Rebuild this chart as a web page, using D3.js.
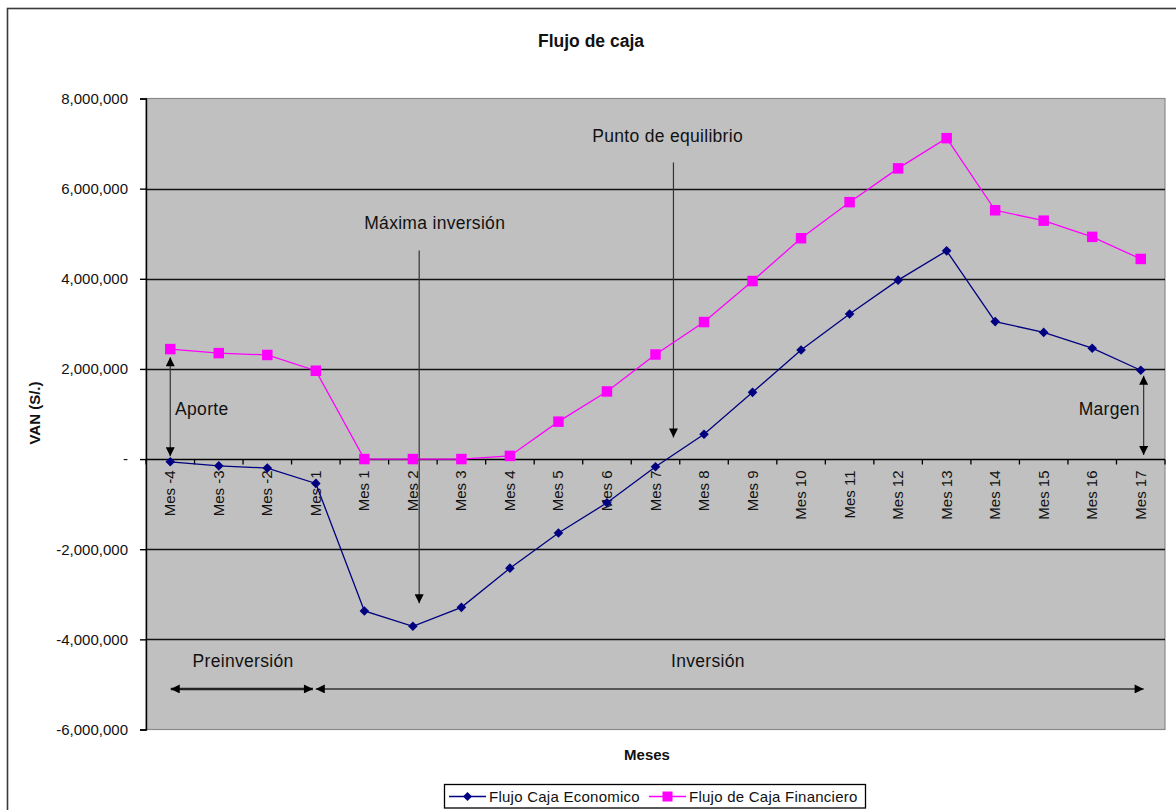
<!DOCTYPE html>
<html>
<head>
<meta charset="utf-8">
<script src="https://cdn.jsdelivr.net/npm/d3@7"></script>
<style>
  body { margin: 0; background: #fff; }
  svg { display: block; font-family: "Liberation Sans", Arial, sans-serif; }
</style>
</head>
<body>
<svg id="chart" width="1176" height="810"></svg>
<script>
// Monthly periods: four pre-investment months, then seventeen investment months
const categories = ["Mes -4", "Mes -3", "Mes -2", "Mes -1",
  "Mes 1", "Mes 2", "Mes 3", "Mes 4", "Mes 5", "Mes 6", "Mes 7", "Mes 8", "Mes 9",
  "Mes 10", "Mes 11", "Mes 12", "Mes 13", "Mes 14", "Mes 15", "Mes 16", "Mes 17"];

// Economic cash flow (VAN, S/.)
const flujoEconomico = [-60000, -150000, -200000, -540000,
  -3370000, -3710000, -3290000, -2420000, -1640000, -970000, -170000, 550000, 1480000,
  2420000, 3220000, 3970000, 4620000, 3050000, 2810000, 2460000, 1970000];

// Financial cash flow (VAN, S/.)
const flujoFinanciero = [2440000, 2350000, 2310000, 1960000,
  0, 0, 0, 70000, 830000, 1500000, 2320000, 3040000, 3950000,
  4900000, 5700000, 6450000, 7120000, 5520000, 5290000, 4930000, 4440000];

const yTicks = [8000000, 6000000, 4000000, 2000000, 0, -2000000, -4000000, -6000000];

const seriesNames = ["Flujo Caja Economico", "Flujo de Caja Financiero"];

const svg = d3.select("#chart");
const W = 1176, H = 810;
const plot = { left: 146, right: 1165, top: 98.5, bottom: 729.5 };
const textColor = "#111";

// outer chart frame
svg.append("rect")
  .attr("x", 7.5).attr("y", 8.5)
  .attr("width", W + 10).attr("height", H + 10)
  .attr("fill", "#fff").attr("stroke", "#3a3a3a").attr("stroke-width", 1.6);

const x = d3.scalePoint().domain(categories).range([plot.left, plot.right]).padding(0.5);
const y = d3.scaleLinear().domain([-6000000, 8000000]).range([plot.bottom, plot.top]);
// fractional category position, used for annotation placement
const xAt = t => x(categories[0]) + t * x.step();

// plot area
svg.append("rect")
  .attr("x", plot.left).attr("y", plot.top)
  .attr("width", plot.right - plot.left).attr("height", plot.bottom - plot.top)
  .attr("fill", "#c0c0c0").attr("stroke", "#8a8a8a").attr("stroke-width", 1.2);

// horizontal gridlines
svg.append("g").selectAll("line")
  .data(yTicks.filter(v => v !== 0 && v !== 8000000 && v !== -6000000))
  .join("line")
  .attr("x1", plot.left).attr("x2", plot.right)
  .attr("y1", d => Math.round(y(d)) + 0.5).attr("y2", d => Math.round(y(d)) + 0.5)
  .attr("stroke", "#111").attr("stroke-width", 1.3);

// value axis
const fmt = v => v === 0 ? "-" : d3.format(",")(v).replace("\u2212", "-");
const yAxis = svg.append("g")
  .attr("transform", `translate(${plot.left},0)`)
  .call(d3.axisLeft(y).tickValues(yTicks).tickFormat(fmt).tickSize(6).tickPadding(12));
yAxis.select(".domain").attr("stroke", "#000").attr("stroke-width", 1.4);
yAxis.selectAll(".tick line").attr("stroke", "#000").attr("stroke-width", 1.4);
yAxis.selectAll(".tick text")
  .attr("fill", textColor).attr("font-size", 15)
  .attr("font-family", "'Liberation Sans', Arial, sans-serif");

// category axis along zero
const zeroY = Math.round(y(0)) + 0.5;
const xAxisG = svg.append("g").attr("transform", `translate(0,${zeroY})`);
xAxisG.append("line")
  .attr("x1", plot.left).attr("x2", plot.right)
  .attr("stroke", "#000").attr("stroke-width", 1.4);
xAxisG.selectAll("line.tk")
  .data(d3.range(categories.length + 1))
  .join("line").attr("class", "tk")
  .attr("x1", i => xAt(i - 0.5)).attr("x2", i => xAt(i - 0.5))
  .attr("y1", 0).attr("y2", 5)
  .attr("stroke", "#000").attr("stroke-width", 1.3);
xAxisG.selectAll("text")
  .data(categories)
  .join("text")
  .attr("transform", d => `translate(${x(d) + 5},11) rotate(-90)`)
  .attr("text-anchor", "end")
  .attr("font-size", 15)
  .attr("fill", textColor)
  .text(d => d);

// annotation arrows
const defs = svg.append("defs");
function marker(id, orient) {
  defs.append("marker")
    .attr("id", id)
    .attr("viewBox", "0 0 10 10")
    .attr("refX", 10).attr("refY", 5)
    .attr("markerWidth", 10).attr("markerHeight", 9)
    .attr("markerUnits", "userSpaceOnUse")
    .attr("orient", orient)
    .append("path").attr("d", "M0,0 L10,5 L0,10 Z").attr("fill", "#000");
}
marker("arrEnd", "auto");
marker("arrStart", "auto-start-reverse");

const annotArrows = [
  // Aporte: from financial to economic value at the first month
  { x1: 0, x2: 0, y1: flujoFinanciero[0] - 180000, y2: flujoEconomico[0] + 120000, both: true, w: 1.2 },
  // Margen: last economic value down to zero
  { x1: 20.06, x2: 20.06, y1: flujoEconomico[20] - 120000, y2: 90000, both: true, w: 1.2 },
  // Máxima inversión
  { x1: 5.13, x2: 5.13, y1: 4630000, y2: -3200000, both: false, w: 1.2 },
  // Punto de equilibrio
  { x1: 10.37, x2: 10.37, y1: 6580000, y2: 480000, both: false, w: 1.2 },
  // Preinversión span
  { x1: 0.01, x2: 2.94, y1: -5100000, y2: -5100000, both: true, w: 2.4 },
  // Inversión span
  { x1: 3.0, x2: 20.06, y1: -5100000, y2: -5100000, both: true, w: 1.4 }
];
svg.append("g").selectAll("line")
  .data(annotArrows)
  .join("line")
  .attr("x1", d => xAt(d.x1)).attr("x2", d => xAt(d.x2))
  .attr("y1", d => y(d.y1)).attr("y2", d => y(d.y2))
  .attr("stroke", d => d.w > 2 ? "#222" : "#333")
  .attr("stroke-width", d => d.w)
  .attr("marker-end", "url(#arrEnd)")
  .attr("marker-start", d => d.both ? "url(#arrStart)" : null);

const annotTexts = [
  { t: 0.1, v: 1120000, label: "Aporte", anchor: "start" },
  { t: 19.98, v: 1120000, label: "Margen", anchor: "end" },
  { t: 5.45, v: 5230000, label: "Máxima inversión", anchor: "middle" },
  { t: 10.25, v: 7180000, label: "Punto de equilibrio", anchor: "middle" },
  { t: 1.5, v: -4480000, label: "Preinversión", anchor: "middle" },
  { t: 11.08, v: -4480000, label: "Inversión", anchor: "middle" }
];
svg.append("g").selectAll("text")
  .data(annotTexts)
  .join("text")
  .attr("x", d => xAt(d.t)).attr("y", d => y(d.v))
  .attr("dy", "0.35em")
  .attr("text-anchor", d => d.anchor)
  .attr("font-size", 17.5)
  .attr("letter-spacing", 0.3)
  .attr("fill", textColor)
  .text(d => d.label);

// series lines and markers
const line = d3.line().x((d, i) => x(categories[i])).y(d => y(d));
const colEco = "#000080", colFin = "#ff00ff";
const diamond = r => `M0,${-r}L${r},0L0,${r}L${-r},0Z`;

svg.append("path").datum(flujoEconomico)
  .attr("d", line).attr("fill", "none").attr("stroke", colEco).attr("stroke-width", 1.3);
svg.append("path").datum(flujoFinanciero)
  .attr("d", line).attr("fill", "none").attr("stroke", colFin).attr("stroke-width", 1.3);

svg.append("g").selectAll("path")
  .data(flujoEconomico)
  .join("path")
  .attr("transform", (d, i) => `translate(${x(categories[i])},${y(d)})`)
  .attr("d", diamond(4.8)).attr("fill", colEco);

svg.append("g").selectAll("path")
  .data(flujoFinanciero)
  .join("path")
  .attr("transform", (d, i) => `translate(${x(categories[i])},${y(d)})`)
  .attr("d", d3.symbol(d3.symbolSquare, 110)).attr("fill", colFin);

// titles
svg.append("text")
  .attr("x", 591).attr("y", 41).attr("dy", "0.35em")
  .attr("text-anchor", "middle").attr("font-size", 17.5).attr("font-weight", "bold")
  .attr("fill", textColor).text("Flujo de caja");

svg.append("text")
  .attr("transform", "translate(35,413) rotate(-90)")
  .attr("dy", "0.35em")
  .attr("text-anchor", "middle").attr("font-size", 15).attr("font-weight", "bold")
  .attr("fill", textColor).text("VAN (S/.)");

svg.append("text")
  .attr("x", 647).attr("y", 755).attr("dy", "0.35em")
  .attr("text-anchor", "middle").attr("font-size", 15).attr("font-weight", "bold")
  .attr("fill", textColor).text("Meses");

// legend
const lg = svg.append("g");
lg.append("rect")
  .attr("x", 444.5).attr("y", 784.5).attr("width", 421).attr("height", 23.5)
  .attr("fill", "#fff").attr("stroke", "#000").attr("stroke-width", 1.3);
const legendItems = [
  { name: seriesNames[0], color: colEco, x0: 449, shape: "d" },
  { name: seriesNames[1], color: colFin, x0: 649, shape: "s" }
];
legendItems.forEach(it => {
  const cy = 796.5;
  lg.append("line").attr("x1", it.x0).attr("x2", it.x0 + 37)
    .attr("y1", cy).attr("y2", cy).attr("stroke", it.color).attr("stroke-width", 1.4);
  lg.append("path")
    .attr("transform", `translate(${it.x0 + 18.5},${cy})`)
    .attr("d", it.shape === "d" ? diamond(4.5) : d3.symbol(d3.symbolSquare, 100)())
    .attr("fill", it.color);
  lg.append("text").attr("x", it.x0 + 40).attr("y", cy).attr("dy", "0.35em")
    .attr("font-size", 15).attr("letter-spacing", 0.25).attr("fill", textColor).text(it.name);
});
</script>
</body>
</html>
